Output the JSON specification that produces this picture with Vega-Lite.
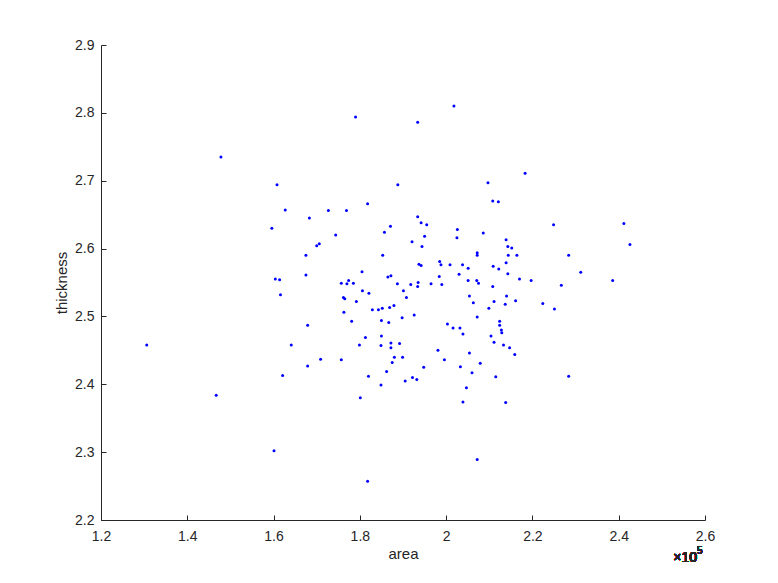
{
  "$schema": "https://vega.github.io/schema/vega-lite/v6.json",
  "autosize": "none",
  "width": 604,
  "height": 475,
  "padding": {"left": 101, "top": 45, "right": 73, "bottom": 63},
  "background": "white",
  "config": {
    "view": {"stroke": null},
    "font": "Liberation Sans",
    "axis": {
      "grid": false,
      "domainColor": "#262626",
      "domainWidth": 1,
      "tickColor": "#262626",
      "tickWidth": 1,
      "tickSize": -5,
      "labelColor": "#262626",
      "labelFont": "Liberation Sans",
      "labelFontSize": 14,
      "titleColor": "#262626",
      "titleFont": "Liberation Sans",
      "titleFontSize": 15,
      "titleFontWeight": "normal"
    }
  },
  "data": {
    "values": [
      {"area": 130600, "thickness": 2.458},
      {"area": 146700, "thickness": 2.384},
      {"area": 147800, "thickness": 2.735},
      {"area": 160100, "thickness": 2.302},
      {"area": 159600, "thickness": 2.630},
      {"area": 160800, "thickness": 2.694},
      {"area": 160400, "thickness": 2.555},
      {"area": 161400, "thickness": 2.554},
      {"area": 161600, "thickness": 2.532},
      {"area": 162100, "thickness": 2.413},
      {"area": 162700, "thickness": 2.657},
      {"area": 164100, "thickness": 2.458},
      {"area": 167500, "thickness": 2.590},
      {"area": 167500, "thickness": 2.561},
      {"area": 167900, "thickness": 2.487},
      {"area": 167900, "thickness": 2.427},
      {"area": 168300, "thickness": 2.645},
      {"area": 170000, "thickness": 2.604},
      {"area": 170600, "thickness": 2.607},
      {"area": 170900, "thickness": 2.437},
      {"area": 172700, "thickness": 2.656},
      {"area": 174400, "thickness": 2.620},
      {"area": 175700, "thickness": 2.436},
      {"area": 175700, "thickness": 2.549},
      {"area": 176200, "thickness": 2.528},
      {"area": 176500, "thickness": 2.526},
      {"area": 176300, "thickness": 2.506},
      {"area": 176900, "thickness": 2.656},
      {"area": 177000, "thickness": 2.548},
      {"area": 177400, "thickness": 2.553},
      {"area": 178100, "thickness": 2.493},
      {"area": 178500, "thickness": 2.549},
      {"area": 179000, "thickness": 2.794},
      {"area": 179200, "thickness": 2.522},
      {"area": 179900, "thickness": 2.458},
      {"area": 180100, "thickness": 2.380},
      {"area": 180500, "thickness": 2.566},
      {"area": 180600, "thickness": 2.538},
      {"area": 181300, "thickness": 2.469},
      {"area": 181800, "thickness": 2.666},
      {"area": 181800, "thickness": 2.257},
      {"area": 182000, "thickness": 2.412},
      {"area": 182100, "thickness": 2.534},
      {"area": 182900, "thickness": 2.510},
      {"area": 184300, "thickness": 2.510},
      {"area": 184900, "thickness": 2.399},
      {"area": 184900, "thickness": 2.457},
      {"area": 185000, "thickness": 2.494},
      {"area": 185000, "thickness": 2.471},
      {"area": 185200, "thickness": 2.512},
      {"area": 185300, "thickness": 2.590},
      {"area": 185700, "thickness": 2.624},
      {"area": 186200, "thickness": 2.419},
      {"area": 186500, "thickness": 2.558},
      {"area": 186700, "thickness": 2.491},
      {"area": 186900, "thickness": 2.513},
      {"area": 187100, "thickness": 2.633},
      {"area": 187200, "thickness": 2.560},
      {"area": 187200, "thickness": 2.461},
      {"area": 187200, "thickness": 2.454},
      {"area": 187500, "thickness": 2.432},
      {"area": 187900, "thickness": 2.516},
      {"area": 188000, "thickness": 2.440},
      {"area": 188700, "thickness": 2.548},
      {"area": 188800, "thickness": 2.694},
      {"area": 189200, "thickness": 2.460},
      {"area": 189800, "thickness": 2.498},
      {"area": 189900, "thickness": 2.440},
      {"area": 190100, "thickness": 2.538},
      {"area": 190500, "thickness": 2.405},
      {"area": 190800, "thickness": 2.528},
      {"area": 191800, "thickness": 2.547},
      {"area": 192100, "thickness": 2.610},
      {"area": 192200, "thickness": 2.410},
      {"area": 192600, "thickness": 2.502},
      {"area": 193200, "thickness": 2.407},
      {"area": 193400, "thickness": 2.786},
      {"area": 193400, "thickness": 2.647},
      {"area": 193400, "thickness": 2.544},
      {"area": 193500, "thickness": 2.550},
      {"area": 193700, "thickness": 2.577},
      {"area": 194200, "thickness": 2.638},
      {"area": 194200, "thickness": 2.575},
      {"area": 194400, "thickness": 2.603},
      {"area": 194800, "thickness": 2.425},
      {"area": 195000, "thickness": 2.618},
      {"area": 195500, "thickness": 2.635},
      {"area": 196500, "thickness": 2.548},
      {"area": 198100, "thickness": 2.450},
      {"area": 198400, "thickness": 2.559},
      {"area": 198500, "thickness": 2.581},
      {"area": 198800, "thickness": 2.576},
      {"area": 199000, "thickness": 2.547},
      {"area": 199600, "thickness": 2.436},
      {"area": 200300, "thickness": 2.489},
      {"area": 200900, "thickness": 2.576},
      {"area": 201600, "thickness": 2.483},
      {"area": 201800, "thickness": 2.810},
      {"area": 202600, "thickness": 2.628},
      {"area": 202500, "thickness": 2.616},
      {"area": 203000, "thickness": 2.562},
      {"area": 203200, "thickness": 2.483},
      {"area": 203300, "thickness": 2.426},
      {"area": 203800, "thickness": 2.576},
      {"area": 203900, "thickness": 2.474},
      {"area": 203900, "thickness": 2.374},
      {"area": 204700, "thickness": 2.395},
      {"area": 205100, "thickness": 2.571},
      {"area": 205100, "thickness": 2.553},
      {"area": 205400, "thickness": 2.530},
      {"area": 205400, "thickness": 2.446},
      {"area": 206000, "thickness": 2.417},
      {"area": 206300, "thickness": 2.520},
      {"area": 207100, "thickness": 2.553},
      {"area": 207200, "thickness": 2.594},
      {"area": 207200, "thickness": 2.590},
      {"area": 207200, "thickness": 2.499},
      {"area": 207200, "thickness": 2.289},
      {"area": 207500, "thickness": 2.549},
      {"area": 207900, "thickness": 2.431},
      {"area": 208600, "thickness": 2.623},
      {"area": 209700, "thickness": 2.697},
      {"area": 209900, "thickness": 2.512},
      {"area": 210400, "thickness": 2.471},
      {"area": 210800, "thickness": 2.670},
      {"area": 210800, "thickness": 2.544},
      {"area": 210900, "thickness": 2.574},
      {"area": 211100, "thickness": 2.522},
      {"area": 211100, "thickness": 2.462},
      {"area": 211500, "thickness": 2.411},
      {"area": 212100, "thickness": 2.669},
      {"area": 212200, "thickness": 2.570},
      {"area": 212400, "thickness": 2.493},
      {"area": 212400, "thickness": 2.487},
      {"area": 212800, "thickness": 2.480},
      {"area": 212900, "thickness": 2.476},
      {"area": 213300, "thickness": 2.458},
      {"area": 213700, "thickness": 2.518},
      {"area": 213800, "thickness": 2.373},
      {"area": 213900, "thickness": 2.613},
      {"area": 213900, "thickness": 2.579},
      {"area": 214000, "thickness": 2.530},
      {"area": 214300, "thickness": 2.603},
      {"area": 214300, "thickness": 2.563},
      {"area": 214400, "thickness": 2.590},
      {"area": 214700, "thickness": 2.454},
      {"area": 215200, "thickness": 2.601},
      {"area": 215900, "thickness": 2.444},
      {"area": 216100, "thickness": 2.523},
      {"area": 216400, "thickness": 2.590},
      {"area": 217000, "thickness": 2.555},
      {"area": 218300, "thickness": 2.711},
      {"area": 219700, "thickness": 2.553},
      {"area": 222400, "thickness": 2.519},
      {"area": 224900, "thickness": 2.635},
      {"area": 225100, "thickness": 2.511},
      {"area": 226700, "thickness": 2.546},
      {"area": 228400, "thickness": 2.590},
      {"area": 228400, "thickness": 2.412},
      {"area": 231200, "thickness": 2.565},
      {"area": 238600, "thickness": 2.553},
      {"area": 241200, "thickness": 2.637},
      {"area": 242600, "thickness": 2.606}
    ]
  },
  "layer": [
    {
      "mark": {"type": "point", "filled": true, "shape": "circle", "size": 9, "color": "#0000FF", "opacity": 1},
      "encoding": {
        "x": {
          "field": "area", "type": "quantitative",
          "scale": {"domain": [120000, 260000], "nice": false, "zero": false},
          "axis": {
            "title": "area",
            "values": [120000, 140000, 160000, 180000, 200000, 220000, 240000, 260000],
            "labelExpr": "format(datum.value / 100000, '.1~f')",
            "labelPadding": 14,
            "titlePadding": 3,
            "labelFlush": false,
            "labelOverlap": false
          }
        },
        "y": {
          "field": "thickness", "type": "quantitative",
          "scale": {"domain": [2.2, 2.9], "nice": false, "zero": false},
          "axis": {
            "title": "thickness",
            "values": [2.2, 2.3, 2.4, 2.5, 2.6, 2.7, 2.8, 2.9],
            "format": ".1f",
            "labelPadding": 12,
            "titlePadding": 5,
            "labelFlush": false,
            "labelOverlap": false
          }
        }
      }
    },
    {
      "mark": {"type": "text", "text": "×10", "align": "right", "baseline": "alphabetic", "dx": -8, "dy": 42, "fontSize": 14, "color": "#262626", "font": "Liberation Sans"},
      "encoding": {
        "x": {"datum": 260000, "type": "quantitative"},
        "y": {"datum": 2.2, "type": "quantitative"}
      }
    },
    {
      "mark": {"type": "text", "text": "5", "align": "left", "baseline": "alphabetic", "dx": -8, "dy": 34, "fontSize": 10, "color": "#262626", "font": "Liberation Sans"},
      "encoding": {
        "x": {"datum": 260000, "type": "quantitative"},
        "y": {"datum": 2.2, "type": "quantitative"}
      }
    }
  ]
}
